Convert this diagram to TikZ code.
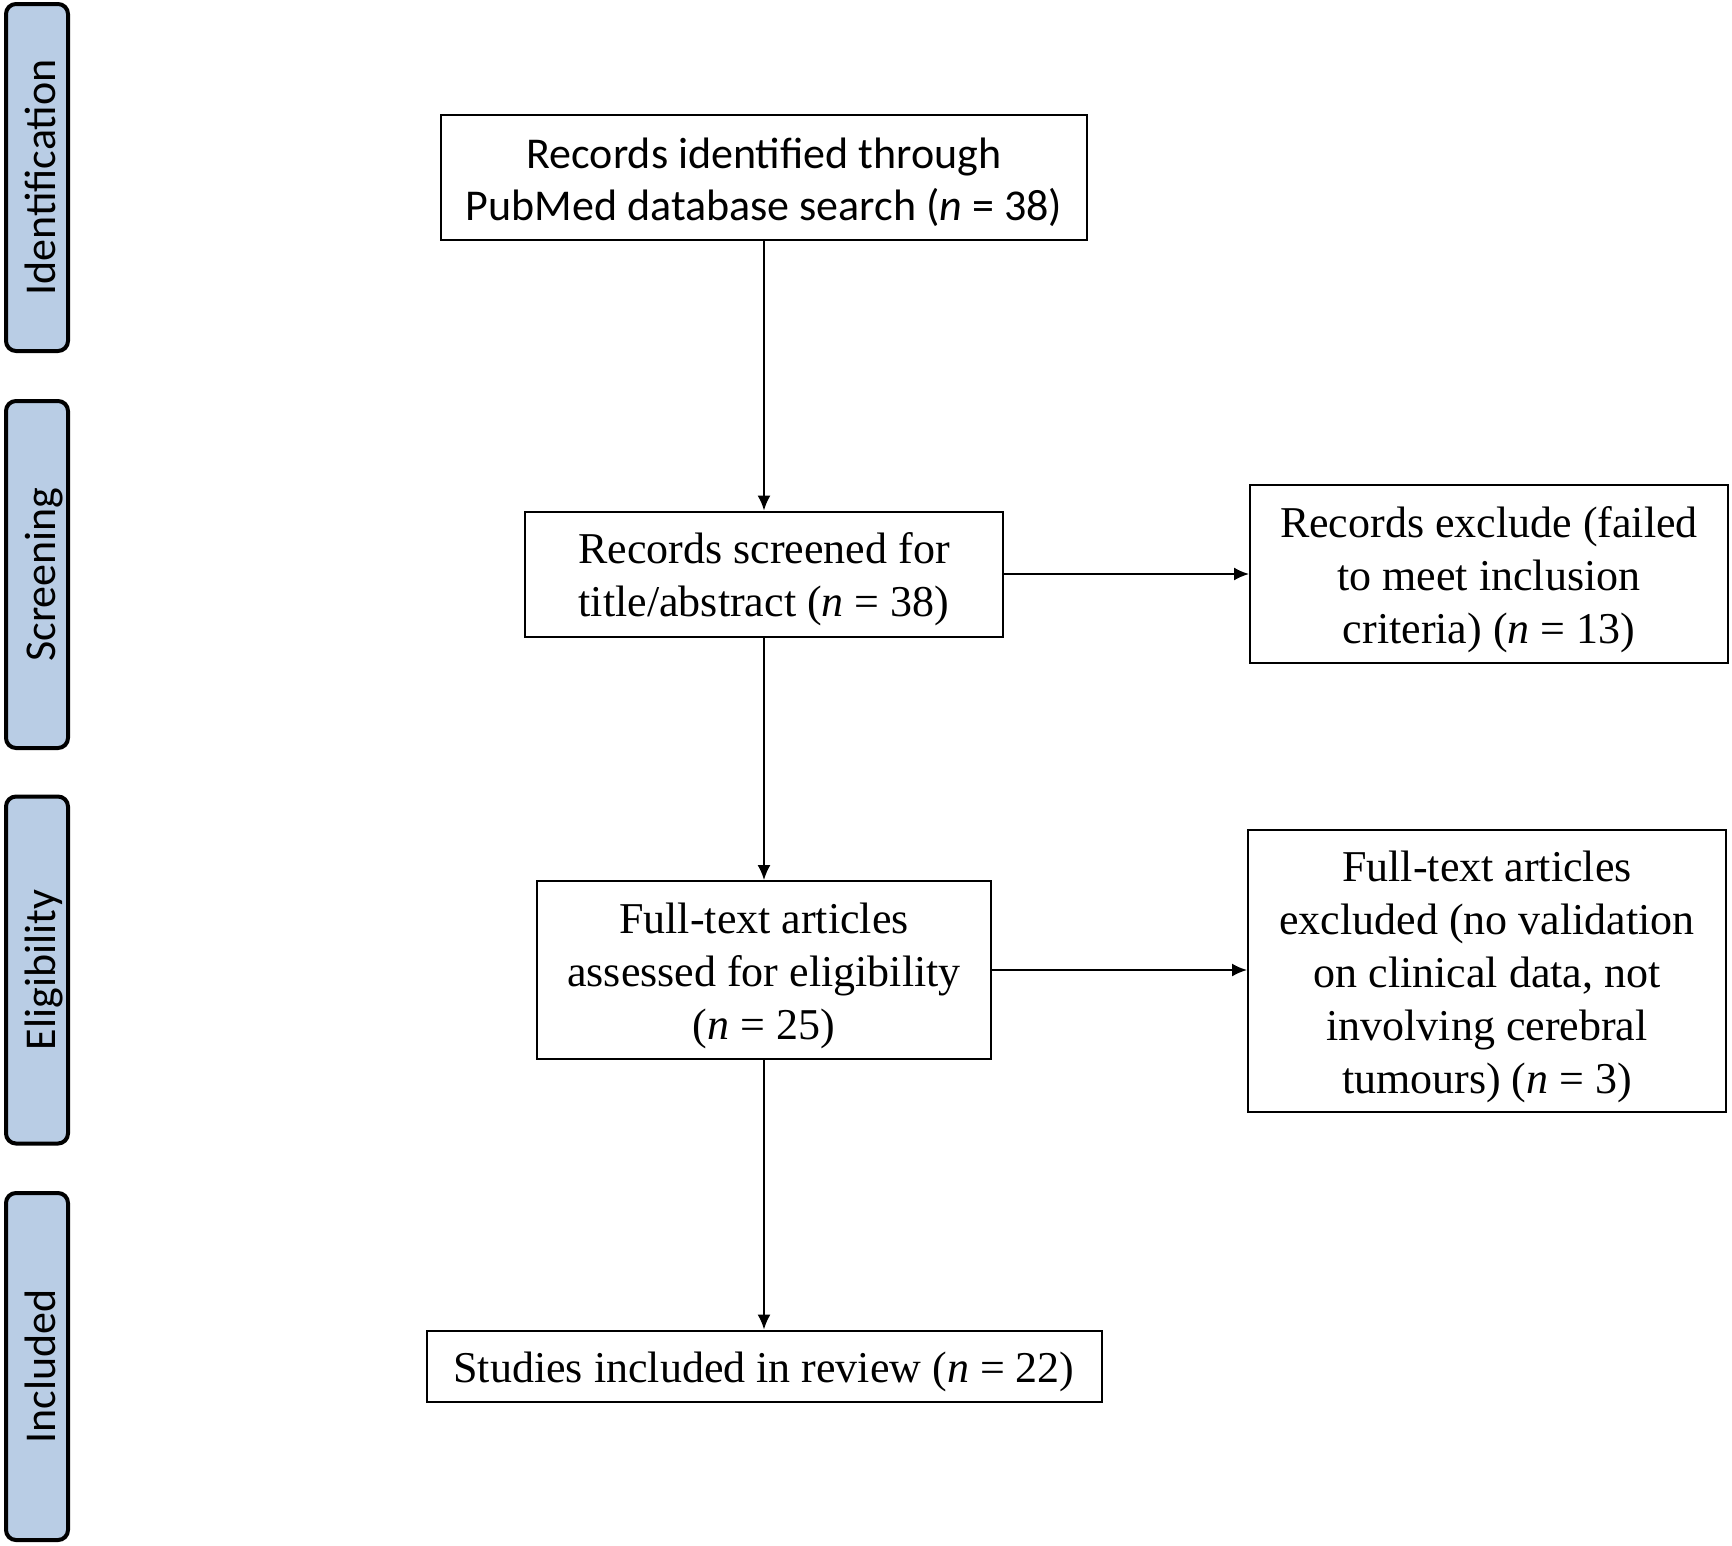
\documentclass[tikz,border=0pt]{standalone}
\usepackage{fontspec}
\setmainfont{Liberation Serif}
\newfontfamily\calibri{Carlito}
\usetikzlibrary{arrows.meta}
\definecolor{stagefill}{HTML}{B9CDE5}
\newcommand{\lift}{\rule{0pt}{42pt}}

\begin{document}
\begin{tikzpicture}[x=1pt, y=-1pt,
  box/.style={draw, line width=2pt, align=center, inner sep=0pt, font=\fontsize{44}{53}\selectfont},
  stage/.style={draw, line width=4pt, rounded corners=10pt, fill=stagefill, rotate=90,
    minimum width=347pt, minimum height=62pt, text height=36pt, text depth=0pt,
    font=\calibri\fontsize{44}{50}\selectfont},
  arr/.style={-{Latex[length=15pt,width=13pt]}, line width=1.8pt}]
\useasboundingbox (0,0) rectangle (1732,1545);

% stages on the left
\node[stage] (ident) at (37, 177.5) {Identification};
\node[stage] (screen) at (37, 574.5) {Screening};
\node[stage] (elig) at (37, 970) {Eligibility};
\node[stage] (incl) at (37, 1366.5) {Included};

% flow boxes
\node[box, minimum width=646pt, minimum height=125pt, font=\calibri\fontsize{44}{52}\selectfont] (found) at (764, 177)
  {\lift Records identified through\\PubMed database search (\textit{n} = 38)};
\node[box, minimum width=478pt, minimum height=125pt] (screened) at (764, 574)
  {\lift Records screened for\\title/abstract (\textit{n} = 38)};
\node[box, minimum width=478pt, minimum height=178pt] (dropped) at (1489, 574)
  {\lift Records exclude (failed\\to meet inclusion\\criteria) (\textit{n} = 13)};
\node[box, minimum width=454pt, minimum height=178pt] (assessed) at (764, 970)
  {\lift Full-text articles\\assessed for eligibility\\(\textit{n} = 25)};
\node[box, minimum width=478pt, minimum height=282pt] (rejected) at (1487, 971)
  {\lift Full-text articles\\excluded (no validation\\on clinical data, not\\involving cerebral\\tumours) (\textit{n} = 3)};
\node[box, minimum width=675pt, minimum height=71pt] (included) at (764, 1366)
  {\lift Studies included in review (\textit{n} = 22)};

% arrows
\draw[arr] (found) -- (screened);
\draw[arr] (screened) -- (dropped);
\draw[arr] (screened) -- (assessed);
\draw[arr] (assessed.east) -- (assessed.east -| rejected.west);
\draw[arr] (assessed) -- (included);

\end{tikzpicture}
\end{document}
